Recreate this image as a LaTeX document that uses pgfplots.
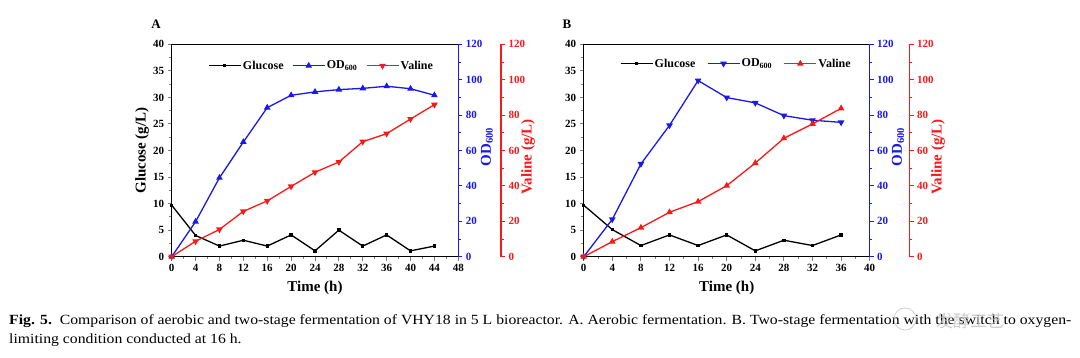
\documentclass[border=0pt]{standalone}
\usepackage{pgfplots}
\pgfplotsset{compat=1.18}
\usepackage{fontspec}
\setmainfont{Liberation Serif}
\newfontfamily\cjk{Noto Sans CJK SC}
\usepackage{graphicx}
\definecolor{odblue}{RGB}{25,25,235}
\definecolor{valred}{RGB}{250,25,25}

\pgfplotsset{
  base/.style={
    scale only axis, anchor=south west, height=212.4pt, clip=false,
    /pgf/number format/assume math mode=true,
    tick label style={font=\fontsize{11}{11}\selectfont\bfseries},
    label style={font=\fontsize{15}{15}\selectfont\bfseries},
    tick align=outside, major tick length=4pt, minor tick length=2.5pt,
    every tick/.append style={line width=0.9pt},
    axis line style={line width=1.3pt},
    ymin=0, xmin=0,
  },
  mainax/.style={base,
    xtick pos=left, ytick pos=left,
    ymax=40, ytick={0,5,...,40}, minor y tick num=1, minor x tick num=1,
    xlabel={Time (h)},
    xlabel style={at={(axis description cs:0.5,-0.145)}, anchor=center},
  },
  blueax/.style={base, hide x axis, axis y line*=right,
    ymax=120, ytick={0,20,...,120}, minor y tick num=1,
    y axis line style={odblue, line width=1.3pt},
    ytick style={odblue}, minor y tick style={odblue},
    yticklabel style={odblue}, ylabel style={odblue},
    ylabel={OD\textsubscript{600}},
  },
  redax/.style={base, hide x axis, axis y line*=right,
    ymax=120, ytick={0,20,...,120}, minor y tick num=1,
    y axis line style={valred, line width=1.3pt},
    ytick style={valred}, minor y tick style={valred},
    yticklabel style={valred}, ylabel style={valred},
    ylabel={Valine (g/L)},
    legend columns=3,
    legend style={draw=none, fill=none, anchor=west, inner sep=0pt,
      font=\fontsize{12}{12}\selectfont\bfseries,
      nodes={inner sep=1.5pt}},
  },
  glu/.style={black, line width=1.3pt, mark=square*, mark size=1.0pt},
  odup/.style={odblue, line width=1.3pt, mark=triangle*, mark size=2.6pt},
  oddown/.style={odblue, line width=1.3pt, mark=triangle*, mark size=2.6pt, mark options={rotate=180}},
  valup/.style={valred, line width=1.3pt, mark=triangle*, mark size=2.6pt},
  valdown/.style={valred, line width=1.3pt, mark=triangle*, mark size=2.6pt, mark options={rotate=180}},
  legend image code/.code={\draw[mark repeat=2,mark phase=2,#1] plot coordinates {(0pt,0pt) (16pt,0pt) (32pt,0pt)};},
}

\begin{document}
\begin{tikzpicture}
\useasboundingbox[fill=white] (0pt,0pt) rectangle (1080pt,358pt);

% ---------------- Panel A ----------------
\begin{axis}[mainax, at={(171.7pt,101.3pt)}, width=286.6pt,
  xmax=48, xtick={0,4,...,48},
  ylabel={Glucose (g/L)},
  ylabel style={at={(axis description cs:-0.1036,0.5)}, anchor=center}]
\addplot[glu] coordinates {(0,9.7) (4,4.0) (8,2.0) (12,3.1) (16,2.0) (20,4.1) (24,1.1) (28,5.0) (32,2.0) (36,4.1) (40,1.1) (44,2.0)};
\end{axis}
\begin{axis}[blueax, at={(171.7pt,101.3pt)}, width=286.6pt, xmax=48,
  ylabel style={at={(axis description cs:1.100,0.516)}, anchor=center}]
\addplot[odup] coordinates {(0,0) (4,19.8) (8,44.6) (12,64.8) (16,84.2) (20,91.2) (24,93.1) (28,94.4) (32,95.1) (36,96.3) (40,94.9) (44,91.2)};
\end{axis}
\begin{axis}[redax, at={(171.7pt,101.3pt)}, width=329.3pt, xmax=55.15,
  ylabel style={at={(axis description cs:1.082,0.47)}, anchor=center},
  legend style={at={(0.110,0.899)}, /tikz/every even column/.append style={column sep=7pt}}]
\addlegendimage{glu}
\addlegendentry{Glucose}
\addlegendimage{odup}
\addlegendentry{OD\textsubscript{600}}
\addplot[valdown] coordinates {(0,0) (4,8.7) (8,15.4) (12,25.6) (16,31.5) (20,39.7) (24,47.7) (28,53.5) (32,65.0) (36,69.5) (40,77.8) (44,85.9)};
\addlegendentry{Valine}
\end{axis}

% ---------------- Panel B ----------------
\begin{axis}[mainax, at={(583.7pt,101.3pt)}, width=286pt,
  xmax=40, xtick={0,4,...,40}]
\addplot[glu] coordinates {(0,9.7) (4,5.1) (8,2.1) (12,4.1) (16,2.1) (20,4.1) (24,1.1) (28,3.1) (32,2.1) (36,4.1)};
\end{axis}
\begin{axis}[blueax, at={(583.7pt,101.3pt)}, width=286pt, xmax=40,
  ylabel style={at={(axis description cs:1.099,0.516)}, anchor=center}]
\addplot[oddown] coordinates {(0,0) (4,21.1) (8,52.4) (12,74.2) (16,99.5) (20,89.9) (24,86.9) (28,79.7) (32,77.1) (36,75.9)};
\end{axis}
\begin{axis}[redax, at={(583.7pt,101.3pt)}, width=325.8pt, xmax=45.57,
  ylabel style={at={(axis description cs:1.0875,0.47)}, anchor=center},
  legend style={at={(0.1105,0.909)}, /tikz/every even column/.append style={column sep=10pt}}]
\addlegendimage{glu}
\addlegendentry{Glucose}
\addlegendimage{oddown}
\addlegendentry{OD\textsubscript{600}}
\addplot[valup] coordinates {(0,0) (4,8.5) (8,16.4) (12,25.1) (16,31.1) (20,40.1) (24,52.9) (28,66.9) (32,75.0) (36,83.8)};
\addlegendentry{Valine}
\end{axis}

% panel letters
\node[font=\bfseries\fontsize{13}{13}\selectfont] at (156pt,334pt) {A};
\node[font=\bfseries\fontsize{13}{13}\selectfont] at (567pt,334pt) {B};

% caption
\node[anchor=north west, inner sep=0pt] at (9pt,47.3pt) {\resizebox{1062pt}{\height}{\fontsize{14}{19}\selectfont\begin{tabular}{@{}l@{}}\textbf{Fig. 5.}\ \ Comparison of aerobic and two-stage fermentation of VHY18 in 5 L bioreactor. A. Aerobic fermentation. B. Two-stage fermentation with the switch to oxygen-\\limiting condition conducted at 16 h.\end{tabular}}};

% watermark
\draw[gray!45, line width=0.8pt, opacity=0.8] (905pt,39pt) circle (11pt);
\node[font=\cjk\fontsize{17}{17}\selectfont, text=gray!50, opacity=0.8] at (970pt,37pt) {发酵工艺};
\end{tikzpicture}
\end{document}
